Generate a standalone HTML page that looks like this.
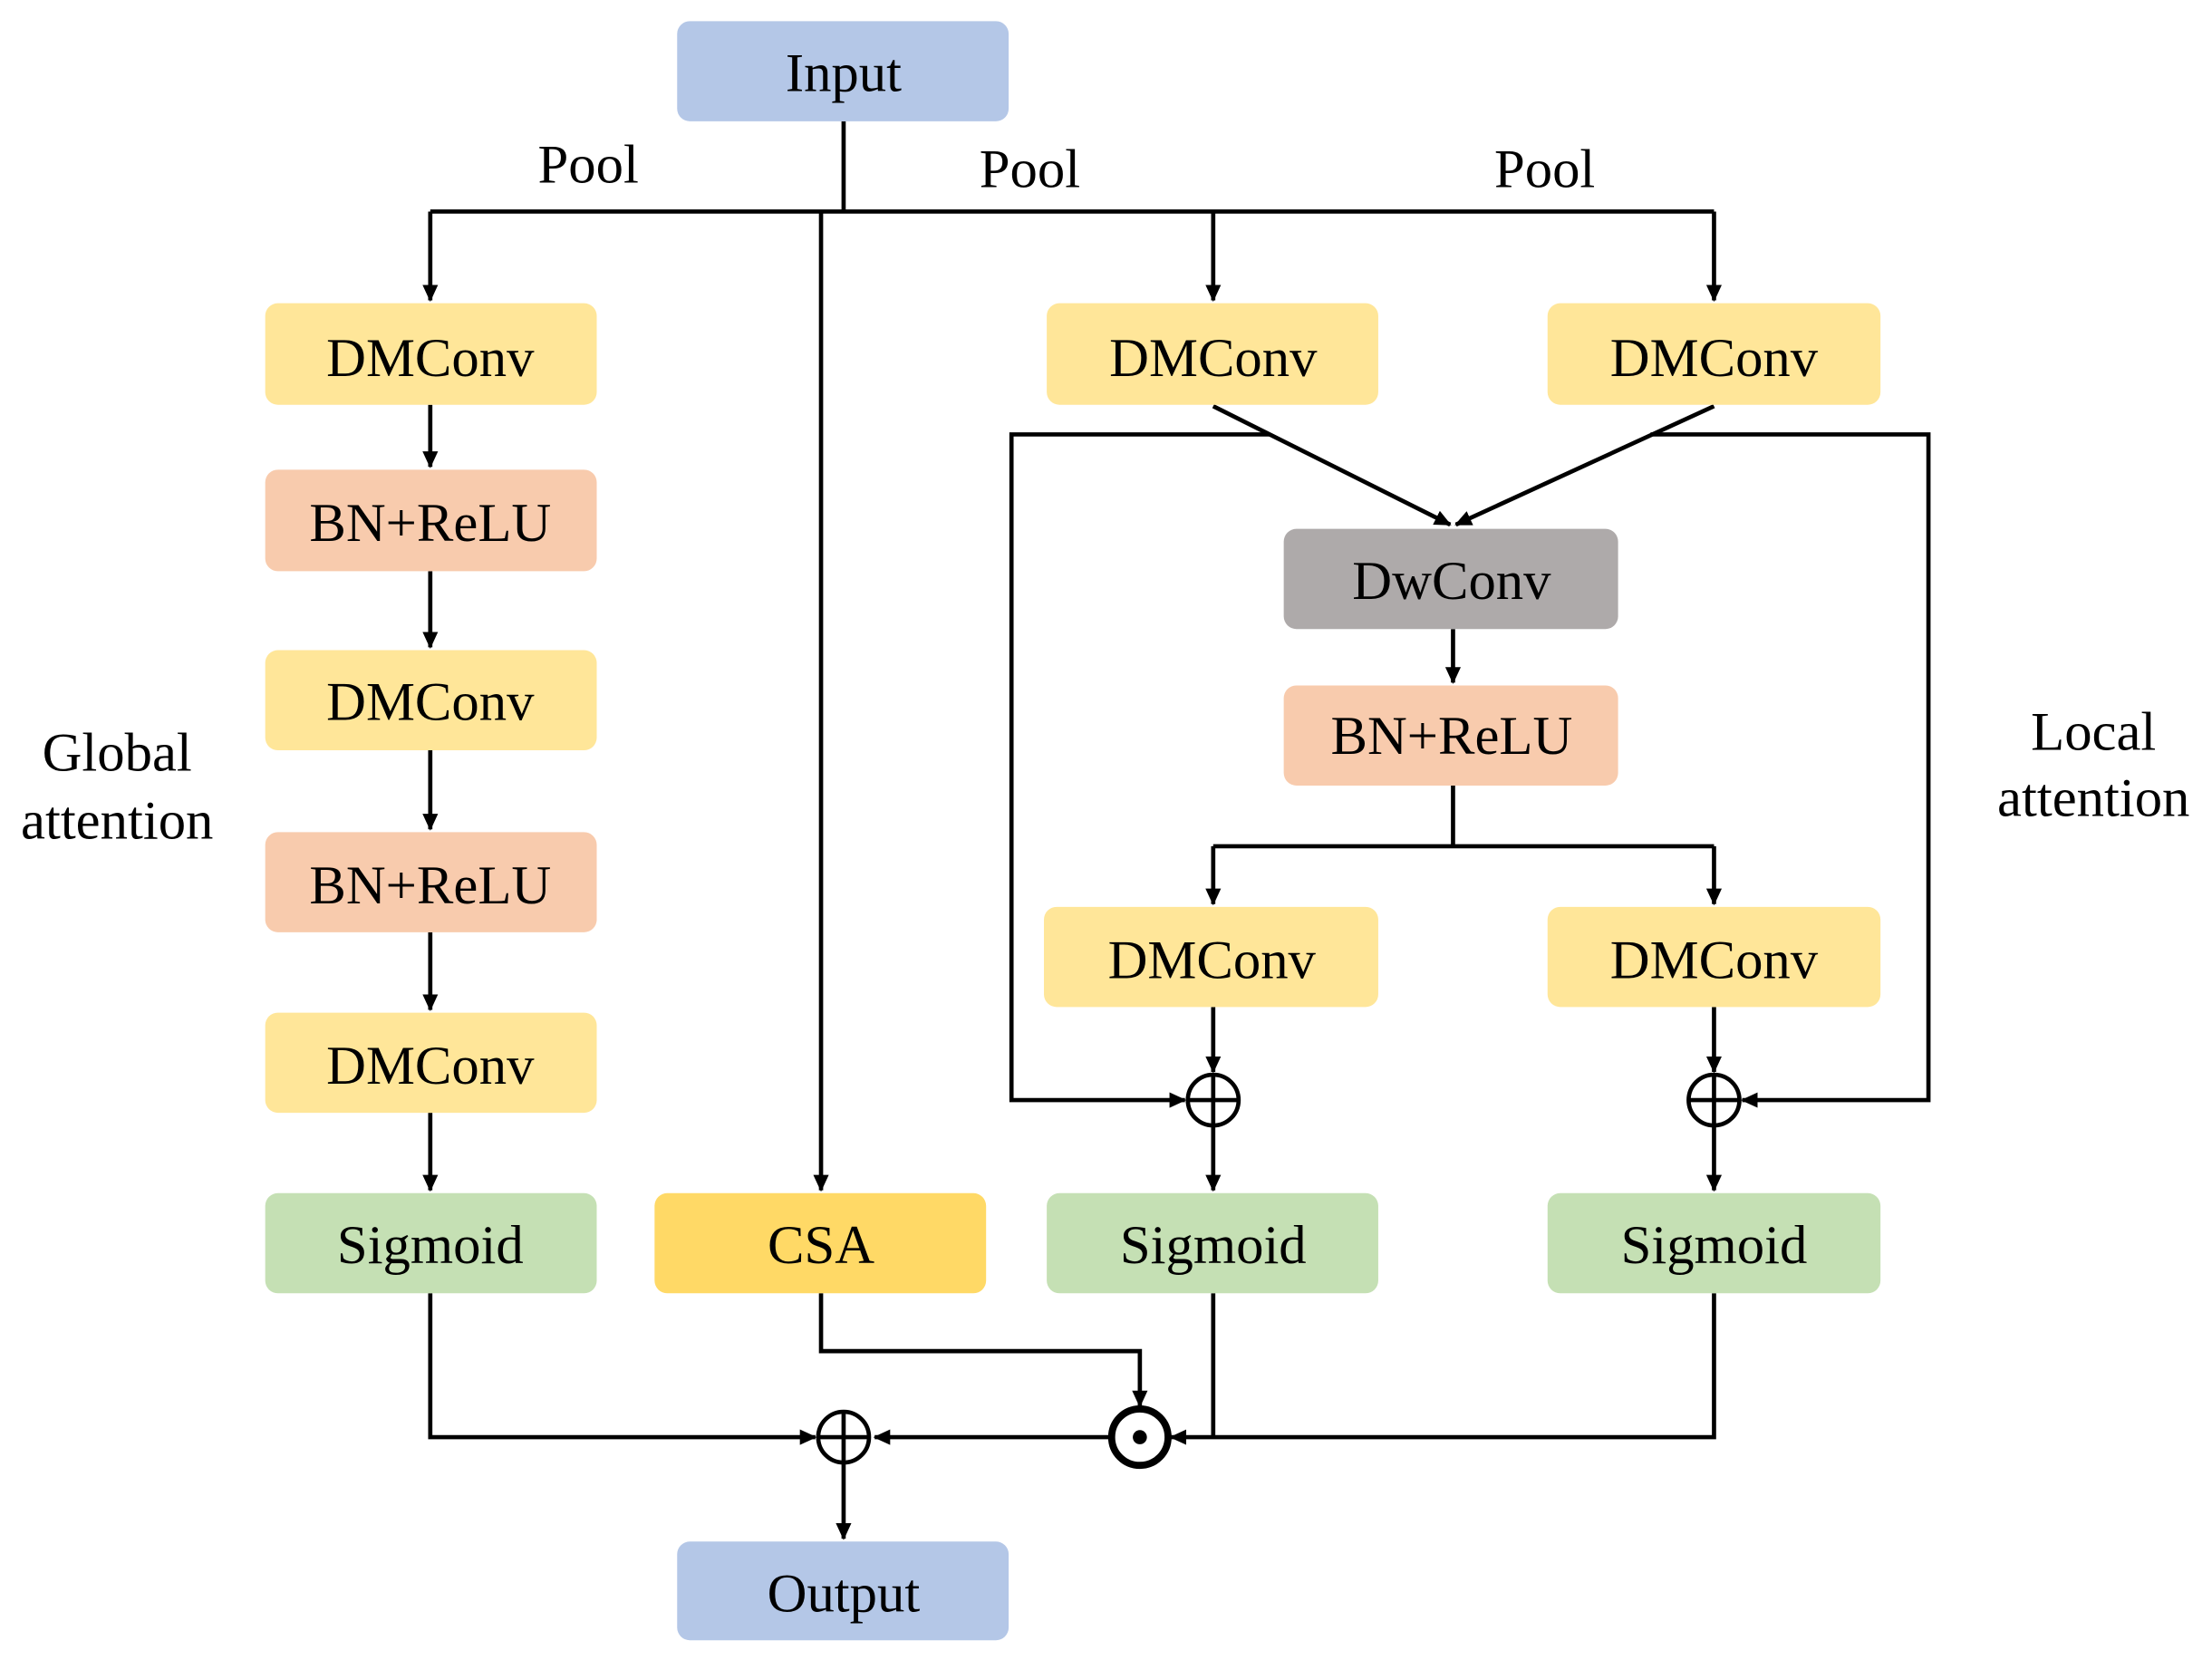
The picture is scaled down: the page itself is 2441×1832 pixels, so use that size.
<!DOCTYPE html>
<html><head><style>
html,body{margin:0;padding:0;background:#fff;}
svg{display:block;}
text{font-family:"Liberation Serif",serif;font-size:39px;fill:#000;text-anchor:middle;dominant-baseline:central;}
</style></head><body>
<svg width="2441" height="1832" viewBox="0 0 1568 1177" preserveAspectRatio="none" xmlns="http://www.w3.org/2000/svg">
<defs>
<marker id="a" markerWidth="12" markerHeight="12" refX="11" refY="6" orient="auto" markerUnits="userSpaceOnUse"><path d="M0,0.5 L12,6 L0,11.5 z" fill="#000"/></marker>
</defs>
<g stroke="#000" stroke-width="3" fill="none">
<path d="M598,86 V150"/>
<path d="M305,150 H1215"/>
<path d="M305,150 V213" marker-end="url(#a)"/>
<path d="M860,150 V213" marker-end="url(#a)"/>
<path d="M1215,150 V213" marker-end="url(#a)"/>
<path d="M582,150 V844" marker-end="url(#a)"/>
<path d="M305,287 V331" marker-end="url(#a)"/>
<path d="M305,405 V459" marker-end="url(#a)"/>
<path d="M305,532 V588" marker-end="url(#a)"/>
<path d="M305,661 V716" marker-end="url(#a)"/>
<path d="M305,789 V844" marker-end="url(#a)"/>
<path d="M860,288 L1028,372" marker-end="url(#a)"/>
<path d="M1215,288 L1032,372" marker-end="url(#a)"/>
<path d="M900,308 H717 V780 H840" marker-end="url(#a)"/>
<path d="M1170,308 H1367 V780 H1235" marker-end="url(#a)"/>
<path d="M1030,446 V484" marker-end="url(#a)"/>
<path d="M1030,557 V600"/>
<path d="M860,600 H1215"/>
<path d="M860,600 V641" marker-end="url(#a)"/>
<path d="M1215,600 V641" marker-end="url(#a)"/>
<path d="M860,714 V760" marker-end="url(#a)"/>
<path d="M1215,714 V760" marker-end="url(#a)"/>
<path d="M860,798 V844" marker-end="url(#a)"/>
<path d="M1215,798 V844" marker-end="url(#a)"/>
<path d="M305,917 V1019 H578" marker-end="url(#a)"/>
<path d="M582,917 V958 H808 V997" marker-end="url(#a)"/>
<path d="M860,917 V1019"/>
<path d="M1215,917 V1019 H830" marker-end="url(#a)"/>
<path d="M787,1019 L620,1019" marker-end="url(#a)"/>
<path d="M598,1037 V1091" marker-end="url(#a)"/>
<circle cx="860" cy="780" r="18" fill="#fff"/>
<path d="M842,780 H878 M860,762 V798"/>
<circle cx="1215" cy="780" r="18" fill="#fff"/>
<path d="M1197,780 H1233 M1215,762 V798"/>
<circle cx="598" cy="1019" r="18" fill="#fff"/>
<path d="M580,1019 H616 M598,1001 V1037"/>
<circle cx="808" cy="1019" r="20" fill="#fff" stroke-width="5"/>
</g>
<circle cx="808" cy="1019" r="5" fill="#000"/>
<g>
<rect x="480" y="15" width="235" height="71" rx="9" fill="#b4c7e7"/>
<rect x="188" y="215" width="235" height="72" rx="9" fill="#ffe699"/>
<rect x="188" y="333" width="235" height="72" rx="9" fill="#f8cbad"/>
<rect x="188" y="461" width="235" height="71" rx="9" fill="#ffe699"/>
<rect x="188" y="590" width="235" height="71" rx="9" fill="#f8cbad"/>
<rect x="188" y="718" width="235" height="71" rx="9" fill="#ffe699"/>
<rect x="188" y="846" width="235" height="71" rx="9" fill="#c5e0b4"/>
<rect x="464" y="846" width="235" height="71" rx="9" fill="#ffd966"/>
<rect x="742" y="215" width="235" height="72" rx="9" fill="#ffe699"/>
<rect x="1097" y="215" width="236" height="72" rx="9" fill="#ffe699"/>
<rect x="910" y="375" width="237" height="71" rx="9" fill="#aeaaaa"/>
<rect x="910" y="486" width="237" height="71" rx="9" fill="#f8cbad"/>
<rect x="740" y="643" width="237" height="71" rx="9" fill="#ffe699"/>
<rect x="1097" y="643" width="236" height="71" rx="9" fill="#ffe699"/>
<rect x="742" y="846" width="235" height="71" rx="9" fill="#c5e0b4"/>
<rect x="1097" y="846" width="236" height="71" rx="9" fill="#c5e0b4"/>
<rect x="480" y="1093" width="235" height="70" rx="9" fill="#b4c7e7"/>
</g>
<text x="598" y="52">Input</text>
<text x="305" y="254">DMConv</text>
<text x="305" y="371">BN+ReLU</text>
<text x="305" y="498">DMConv</text>
<text x="305" y="628">BN+ReLU</text>
<text x="305" y="756">DMConv</text>
<text x="305" y="883">Sigmoid</text>
<text x="582" y="883">CSA</text>
<text x="860" y="254">DMConv</text>
<text x="1215" y="254">DMConv</text>
<text x="1029" y="412">DwConv</text>
<text x="1029" y="522">BN+ReLU</text>
<text x="859" y="681">DMConv</text>
<text x="1215" y="681">DMConv</text>
<text x="860" y="883">Sigmoid</text>
<text x="1215" y="883">Sigmoid</text>
<text x="598" y="1130">Output</text>
<text x="417" y="117">Pool</text>
<text x="730" y="120">Pool</text>
<text x="1095" y="120">Pool</text>
<text x="83" y="534">Global</text>
<text x="83" y="582">attention</text>
<text x="1484" y="519">Local</text>
<text x="1484" y="566">attention</text>
</svg>
</body></html>
